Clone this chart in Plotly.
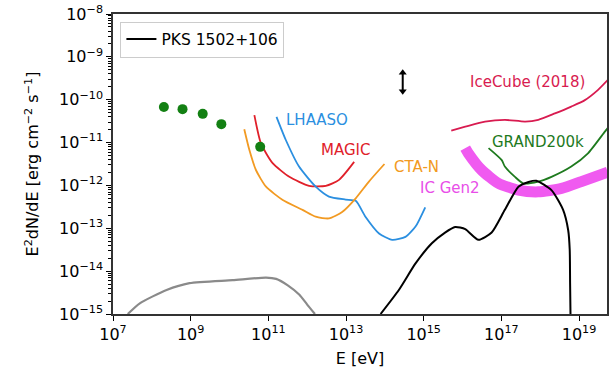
import plotly.graph_objects as go

# ---- data (log10 E [eV], log10 flux) ----
green_logE = [8.31, 8.79, 9.31, 9.79, 10.79]
green_logF = [-10.17, -10.22, -10.33, -10.57, -11.10]

gray_logE = [7.38, 7.69, 8.38, 8.97, 10.08, 10.94, 11.2, 11.5, 11.8, 12.0, 12.2]
gray_logF = [-15.0, -14.75, -14.44, -14.28, -14.21, -14.15, -14.18, -14.33, -14.55, -14.78, -15.0]

pks_logE = [13.89, 14.36, 14.79, 15.21, 15.55, 15.81, 16.07, 16.41, 16.75, 17.09, 17.44, 17.70, 17.90, 18.29, 18.59, 18.72, 18.76, 18.77, 18.78]
pks_logF = [-15.0, -14.44, -13.82, -13.35, -13.10, -12.97, -13.02, -13.27, -13.10, -12.57, -12.03, -11.92, -11.89, -12.11, -12.57, -13.04, -13.5, -14.3, -15.0]

magic_logE = [10.64, 10.81, 11.11, 11.54, 12.05, 12.48, 12.82, 13.21]
magic_logF = [-10.36, -11.02, -11.48, -11.80, -12.01, -12.01, -11.87, -11.45]

lhaaso_logE = [11.21, 11.45, 11.79, 12.22, 12.56, 12.99, 13.25, 13.50, 13.85, 14.19, 14.53, 14.79, 15.04]
lhaaso_logF = [-10.40, -10.94, -11.56, -12.03, -12.26, -12.33, -12.36, -12.73, -13.12, -13.27, -13.20, -12.96, -12.51]

cta_logE = [10.38, 10.51, 10.68, 10.94, 11.37, 11.88, 12.22, 12.56, 12.90, 13.25, 13.59, 13.99]
cta_logF = [-10.69, -11.17, -11.64, -12.03, -12.34, -12.57, -12.73, -12.77, -12.62, -12.30, -11.91, -11.50]

icecube_logE = [15.71, 16.07, 16.58, 17.09, 17.61, 17.95, 18.38, 18.80, 19.15, 19.49, 19.74]
icecube_logF = [-10.72, -10.63, -10.51, -10.47, -10.51, -10.47, -10.32, -10.16, -10.01, -9.77, -9.54]

grand_logE = [16.67, 17.01, 17.09, 17.35, 17.56, 17.95, 18.29, 18.80, 19.23, 19.66, 19.74]
grand_logF = [-11.13, -11.41, -11.56, -11.80, -11.95, -11.91, -11.80, -11.56, -11.25, -10.75, -10.66]

gen2_logE = [16.07, 16.15, 16.49, 16.92, 17.44, 17.95, 18.55, 19.06, 19.74]
gen2_logF = [-11.13, -11.25, -11.64, -11.95, -12.11, -12.15, -12.07, -11.91, -11.69]

arrow_logE = [14.46, 14.46]
arrow_logF = [-9.37, -9.80]

labels = ["LHAASO", "MAGIC", "CTA-N", "IC Gen2", "IceCube (2018)", "GRAND200k"]
label_logE = [11.41, 12.31, 14.18, 14.85, 16.15, 16.72]
label_logF = [-10.47, -11.17, -11.57, -12.06, -9.59, -10.99]
label_colors = ["#2b8fe0", "#e0202a", "#f29a22", "#e84ee8", "#d81b50", "#1e7a1e"]

x_ticks = [7, 9, 11, 13, 15, 17, 19]
y_ticks = [-15, -14, -13, -12, -11, -10, -9, -8]

p = lambda arr: [10 ** v for v in arr]

fig = go.Figure()

def line(lx, ly, color, width, name=None, show=False):
    fig.add_trace(go.Scatter(x=p(lx), y=p(ly), mode="lines",
                             line=dict(color=color, width=width, shape="spline", smoothing=0.6),
                             name=name, showlegend=show))

line(gen2_logE, gen2_logF, "#f05af0", 11)
line(gray_logE, gray_logF, "#8a8a8a", 2.2)
line(magic_logE, magic_logF, label_colors[1], 1.8)
line(lhaaso_logE, lhaaso_logF, label_colors[0], 1.8)
line(cta_logE, cta_logF, label_colors[2], 1.8)
line(icecube_logE, icecube_logF, label_colors[4], 1.8)
line(grand_logE, grand_logF, label_colors[5], 1.8)
line(pks_logE, pks_logF, "black", 2, name="PKS 1502+106", show=True)

fig.add_trace(go.Scatter(x=p(green_logE), y=p(green_logF), mode="markers",
                         marker=dict(color="#138013", size=10), showlegend=False))

fig.add_trace(go.Scatter(x=p(arrow_logE), y=p(arrow_logF), mode="lines+markers",
                         line=dict(color="black", width=2),
                         marker=dict(symbol=["triangle-up", "triangle-down"], size=7, color="black"),
                         showlegend=False))

for t, lx, ly, c in zip(labels, label_logE, label_logF, label_colors):
    fig.add_annotation(x=lx, y=ly, text=t, showarrow=False, xanchor="left", yanchor="middle",
                       font=dict(color=c, size=15, family="DejaVu Sans"))

minor_y = [m * 10 ** d for d in range(-15, -8) for m in range(2, 10)]

fig.update_xaxes(type="log", range=[7, 19.72],
                 tickvals=[10 ** v for v in x_ticks],
                 ticktext=[f"10<sup>{v}</sup>" for v in x_ticks],
                 ticks="outside", ticklen=5, tickwidth=1.2, tickcolor="black",
                 showline=True, linecolor="#333", linewidth=1.5, mirror=True,
                 showgrid=False, zeroline=False,
                 title=dict(text="E [eV]", font=dict(size=16), standoff=10),
                 tickfont=dict(size=16))
fig.update_yaxes(type="log", range=[-15, -8],
                 tickvals=[10 ** v for v in y_ticks],
                 ticktext=[f"10<sup>\u2212{-v}</sup>" for v in y_ticks],
                 ticks="outside", ticklen=5, tickwidth=1.2, tickcolor="black",
                 minor=dict(tickvals=minor_y, ticks="outside", ticklen=3, tickcolor="black", showgrid=False),
                 showline=True, linecolor="#333", linewidth=1.5, mirror=True,
                 showgrid=False, zeroline=False,
                 title=dict(text="E<sup>2</sup>dN/dE [erg cm<sup>\u22122</sup> s<sup>\u22121</sup>]",
                            font=dict(size=16), standoff=16),
                 tickfont=dict(size=16))

fig.update_layout(width=611, height=374,
                  margin=dict(l=113, r=2, t=14, b=60),
                  plot_bgcolor="white", paper_bgcolor="white",
                  font=dict(family="DejaVu Sans", color="black"),
                  legend=dict(x=0.015, y=0.975, xanchor="left", yanchor="top",
                              bgcolor="rgba(255,255,255,0.8)", bordercolor="#cccccc", borderwidth=1,
                              font=dict(size=15.5)))

fig.write_html("out.html")
